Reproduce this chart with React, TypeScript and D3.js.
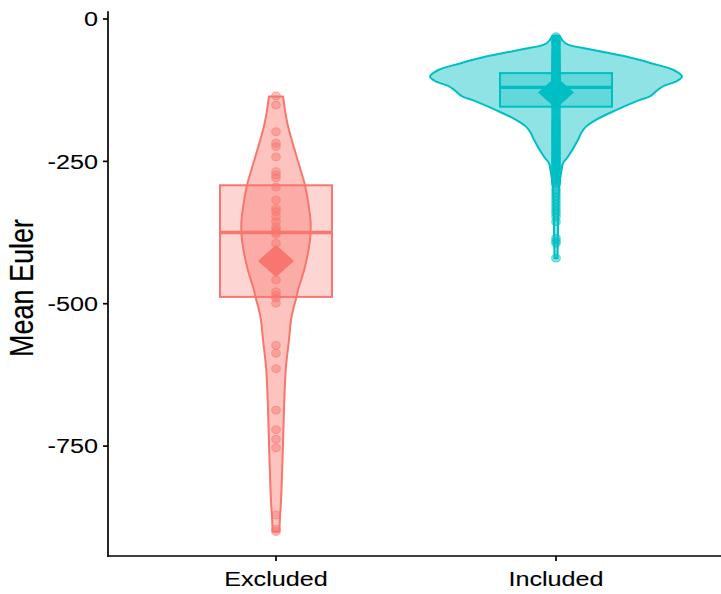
import React from "react";
import * as d3 from "d3";

// Groups and their colours
const categories = ["Excluded", "Included"];
const groupColors = ["#F8766D", "#00BFC4"];

// Axis ticks
const yTicks = [0, -250, -500, -750];

// Individual observations per group
const excludedValues = [
  -135, -151, -198, -218, -224, -242, -268, -274, -279, -295, -318, -333, -338,
  -347, -356, -365, -370, -374, -378, -394, -458, -479, -485, -490, -499, -573,
  -587, -614, -687, -721, -738, -753, -871, -896, -900,
];
const includedValues = [
  -31, -34, -36, -38, -40, -42, -44, -47, -50, -53, -55, -58, -60, -62, -64,
  -66, -68, -70, -72, -73, -75, -77, -78, -80, -81, -83, -84, -86, -87, -89,
  -90, -91, -93, -94, -95, -97, -98, -99, -100, -102, -103, -104, -105, -107,
  -108, -109, -110, -112, -113, -114, -115, -117, -118, -119, -121, -122, -124,
  -125, -127, -128, -130, -132, -133, -135, -137, -139, -141, -143, -145, -147,
  -150, -152, -155, -157, -160, -163, -166, -169, -172, -175, -178, -180, -182,
  -184, -186, -188, -190, -192, -194, -196, -198, -200, -202, -204, -206, -208,
  -210, -212, -214, -216, -218, -220, -222, -224, -226, -228, -230, -232, -234,
  -236, -238, -240, -242, -244, -246, -248, -250, -252, -254, -256, -258, -260,
  -262, -264, -266, -268, -270, -272, -274, -276, -278, -280, -282, -284, -286,
  -288, -290, -300, -306, -312, -318, -324, -330, -336, -341, -347, -356, -385,
  -390, -394, -420,
];

// Kernel density profiles (value, relative density)
const excludedDensityAt = [
  -136, -183, -242, -292, -335, -358, -388, -435, -476, -494, -511, -529, -564,
  -611, -669, -727, -786, -845, -874, -900,
];
const excludedDensity = [
  0.056, 0.09, 0.164, 0.23, 0.264, 0.275, 0.27, 0.23, 0.175, 0.156, 0.135,
  0.119, 0.103, 0.079, 0.066, 0.058, 0.05, 0.04, 0.032, 0.026,
];
const includedDensityAt = [
  -30, -43, -54, -66, -78, -90, -101, -110, -117, -124, -136, -142, -160, -177,
  -189, -200, -212, -242, -253, -271, -289, -318, -370, -420,
];
const includedDensity = [
  0.03, 0.077, 0.286, 0.556, 0.762, 0.937, 1.0, 0.95, 0.86, 0.81, 0.745, 0.667,
  0.476, 0.317, 0.238, 0.2, 0.175, 0.095, 0.056, 0.04, 0.028, 0.02, 0.016,
  0.012,
];

// Box summaries and means
const boxQ1 = [-488, -154];
const boxMedian = [-375, -120];
const boxQ3 = [-292, -95];
const groupMeans = [-425, -129];

const W = 721;
const H = 594;
const axisX = 108;
const axisY = 556;
const stretch = 1.2;
const font = "'Liberation Sans', Arial, Helvetica, sans-serif";

export default function App() {
  const x = d3
    .scalePoint<string>()
    .domain(categories)
    .range([axisX, 724])
    .padding(0.6);
  const step = x.step();
  const y = d3.scaleLinear().domain([0, -943]).range([19, axisY]);
  const halfWidth = d3.scaleLinear().domain([0, 1]).range([0, 126]);

  const values = [excludedValues, includedValues];
  const profiles = [
    d3.zip(excludedDensityAt, excludedDensity),
    d3.zip(includedDensityAt, includedDensity),
  ];

  const groups = categories.map((cat, i) => {
    const cx = x(cat) as number;
    const col = groupColors[i];
    const area = d3
      .area<number[]>()
      .y((d) => y(d[0]))
      .x0((d) => cx - halfWidth(d[1]))
      .x1((d) => cx + halfWidth(d[1]))
      .curve(d3.curveCatmullRom.alpha(0.5));
    const boxHalf = (step * 0.4) / 2;
    const my = y(groupMeans[i]);
    const dw = 18;
    const dh = 16;
    return (
      <g key={cat}>
        <path
          d={area(profiles[i]) || ""}
          fill={col}
          fillOpacity={0.44}
          stroke={col}
          strokeWidth={2}
        />
        <rect
          x={cx - boxHalf}
          y={y(boxQ3[i])}
          width={boxHalf * 2}
          height={y(boxQ1[i]) - y(boxQ3[i])}
          fill={col}
          fillOpacity={0.3}
          stroke={col}
          strokeWidth={2}
        />
        <line
          x1={cx - boxHalf}
          x2={cx + boxHalf}
          y1={y(boxMedian[i])}
          y2={y(boxMedian[i])}
          stroke={col}
          strokeWidth={3.4}
        />
        {values[i].map((v, j) => (
          <ellipse
            key={j}
            cx={cx}
            cy={y(v)}
            rx={4.3}
            ry={3.9}
            fill={col}
            fillOpacity={0.45}
            stroke={col}
            strokeOpacity={0.55}
            strokeWidth={1}
          />
        ))}
        <path
          d={`M${cx - dw},${my} L${cx},${my - dh} L${cx + dw},${my} L${cx},${my + dh} Z`}
          fill={col}
        />
      </g>
    );
  });

  return (
    <svg
      width={W}
      height={H}
      style={{ position: "absolute", left: 0, top: 0, background: "#fff" }}
    >
      <rect width={W} height={H} fill="#fff" />
      {groups}
      {/* y axis */}
      <line
        x1={axisX}
        x2={axisX}
        y1={y(13.5)}
        y2={axisY + 0.8}
        stroke="#000"
        strokeWidth={1.7}
      />
      {yTicks.map((t) => (
        <g key={t}>
          <line
            x1={axisX - 5}
            x2={axisX}
            y1={y(t)}
            y2={y(t)}
            stroke="#000"
            strokeWidth={1.7}
          />
          <text
            transform={`translate(98,${y(t)}) scale(${stretch},1)`}
            textAnchor="end"
            dominantBaseline="central"
            fontFamily={font}
            fontSize={21}
            fill="#000"
            stroke="#000"
            strokeWidth={0.1}
          >
            {t}
          </text>
        </g>
      ))}
      {/* x axis */}
      <line
        x1={axisX - 0.8}
        x2={W}
        y1={axisY}
        y2={axisY}
        stroke="#000"
        strokeWidth={1.7}
      />
      {categories.map((c) => (
        <g key={c}>
          <line
            x1={x(c)}
            x2={x(c)}
            y1={axisY}
            y2={axisY + 5}
            stroke="#000"
            strokeWidth={1.7}
          />
          <text
            transform={`translate(${x(c)},586) scale(${stretch},1)`}
            textAnchor="middle"
            fontFamily={font}
            fontSize={21}
            fill="#000"
            stroke="#000"
            strokeWidth={0.1}
          >
            {c}
          </text>
        </g>
      ))}
      <text
        transform={`translate(33,288) scale(${stretch},1) rotate(-90)`}
        textAnchor="middle"
        fontFamily={font}
        fontSize={27}
        fill="#000"
        stroke="#000"
        strokeWidth={0.15}
      >
        Mean Euler
      </text>
    </svg>
  );
}
